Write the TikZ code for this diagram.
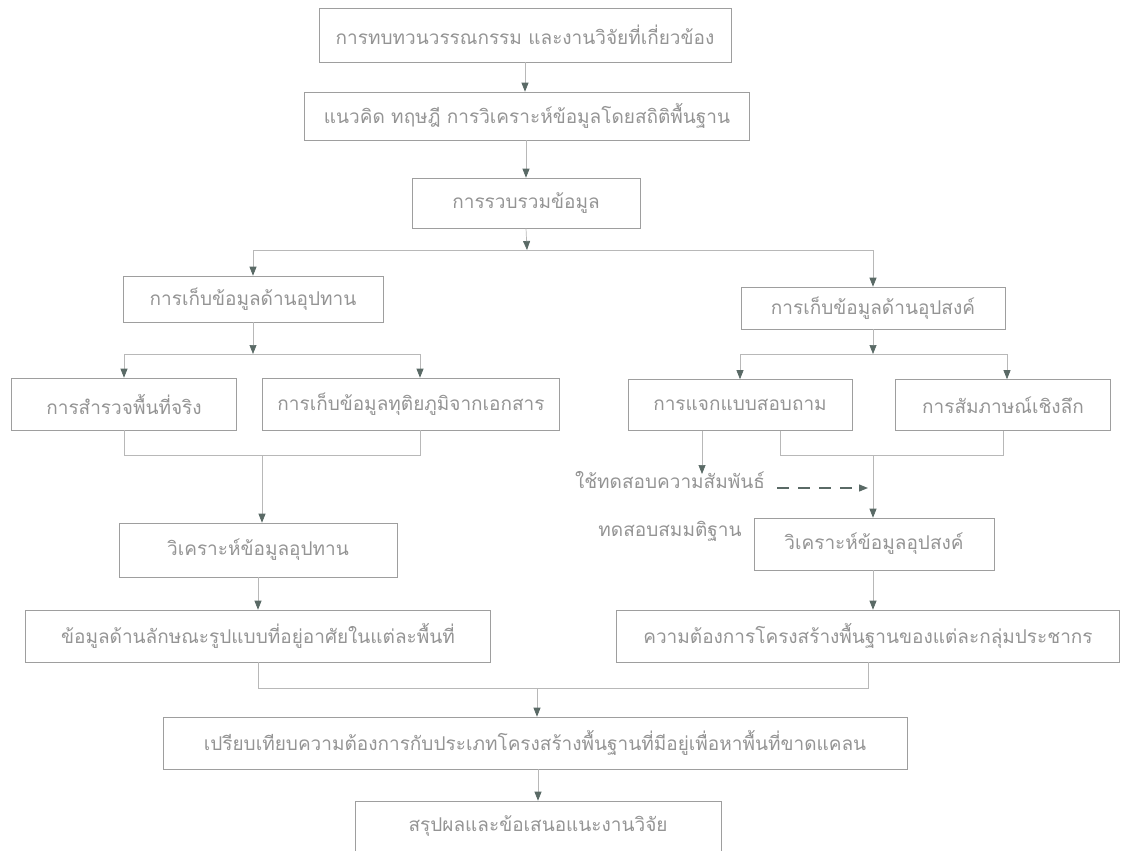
\documentclass[tikz,border=0pt]{standalone}
\usepackage{fontspec}
\newfontfamily\thaifont[Script=Thai]{Loma}
\usetikzlibrary{arrows.meta}
\definecolor{boxline}{gray}{0.62}
\definecolor{txt}{gray}{0.58}
\definecolor{tip}{HTML}{5A6A66}
\definecolor{wire}{gray}{0.72}
\tikzset{
  box/.style={draw=boxline,line width=0.6pt,text=txt,inner sep=0pt,font=\thaifont\fontsize{19}{22}\selectfont,anchor=center},
  arr/.style={draw=wire,line width=0.7pt,-{Triangle[length=9pt,width=7pt,fill=tip,color=tip]}},
  wln/.style={draw=wire,line width=0.7pt},
  dsh/.style={draw=tip,line width=1.2pt,dash pattern=on 12pt off 9pt,-{Triangle[length=9pt,width=7pt,fill=tip,color=tip]}}
}
\begin{document}
\begin{tikzpicture}[x=1pt,y=1pt]
\useasboundingbox (0,0) rectangle (1130,-851);
% boxes
\node[box,minimum width=412pt,minimum height=54pt] (b1) at (525,-35) {การทบทวนวรรณกรรม และงานวิจัยที่เกี่ยวข้อง};
\node[box,minimum width=445pt,minimum height=48pt] (b2) at (527,-116) {แนวคิด ทฤษฎี การวิเคราะห์ข้อมูลโดยสถิติพื้นฐาน};
\node[box,minimum width=228pt,minimum height=50pt] (b3) at (526,-203) {การรวบรวมข้อมูล};
\node[box,minimum width=260pt,minimum height=46pt] (b4l) at (253,-299) {การเก็บข้อมูลด้านอุปทาน};
\node[box,minimum width=264pt,minimum height=42pt] (b4r) at (873,-308) {การเก็บข้อมูลด้านอุปสงค์};
\node[box,minimum width=225pt,minimum height=52pt] (b5a) at (124,-404) {การสำรวจพื้นที่จริง};
\node[box,minimum width=297pt,minimum height=52pt] (b5b) at (411,-404) {การเก็บข้อมูลทุติยภูมิจากเอกสาร};
\node[box,minimum width=224pt,minimum height=51pt] (b5c) at (740,-405) {การแจกแบบสอบถาม};
\node[box,minimum width=215pt,minimum height=51pt] (b5d) at (1003,-405) {การสัมภาษณ์เชิงลึก};
\node[box,minimum width=278pt,minimum height=54pt] (b6l) at (258,-550) {วิเคราะห์ข้อมูลอุปทาน};
\node[box,minimum width=240pt,minimum height=52pt] (b6r) at (874,-544) {วิเคราะห์ข้อมูลอุปสงค์};
\node[box,minimum width=465pt,minimum height=52pt] (b7l) at (258,-636) {ข้อมูลด้านลักษณะรูปแบบที่อยู่อาศัยในแต่ละพื้นที่};
\node[box,minimum width=503pt,minimum height=52pt] (b7r) at (868,-636) {ความต้องการโครงสร้างพื้นฐานของแต่ละกลุ่มประชากร};
\node[box,minimum width=744pt,minimum height=52pt] (b8) at (535,-743) {เปรียบเทียบความต้องการกับประเภทโครงสร้างพื้นฐานที่มีอยู่เพื่อหาพื้นที่ขาดแคลน};
\node[box,minimum width=366pt,minimum height=50pt] (b9) at (538,-826) {สรุปผลและข้อเสนอแนะงานวิจัย};
\node[text=txt,font=\thaifont\fontsize{19}{48}\selectfont,align=center,inner sep=0pt] (lab) at (670,-506) {ใช้ทดสอบความสัมพันธ์\\ทดสอบสมมติฐาน};
% junction coordinates
\coordinate (j1) at (527,-250);
\coordinate (j1l) at (253,-250);
\coordinate (j1r) at (873,-250);
\coordinate (j2) at (253,-354);
\coordinate (j2a) at (124,-354);
\coordinate (j2b) at (420,-354);
\coordinate (j3) at (873,-354);
\coordinate (j3c) at (740,-354);
\coordinate (j3d) at (1007,-354);
\coordinate (k5a) at (124,-455);
\coordinate (k5b) at (420,-455);
\coordinate (k5m) at (262,-455);
\coordinate (k5c) at (780,-455);
\coordinate (k5d) at (1003,-455);
\coordinate (k5n) at (873,-455);
\coordinate (s5c) at (780,-430.5);
\coordinate (s5cl) at (702,-430.5);
\coordinate (labtop) at (702,-474);
\coordinate (dsA) at (777,-488);
\coordinate (dsB) at (868,-488);
\coordinate (k7l) at (258,-688);
\coordinate (k7r) at (868,-688);
\coordinate (k7m) at (537,-688);
% connectors
\draw[arr] (b1.south) -- (b1.south |- b2.north);
\draw[arr] (b2.south -| b3.north) -- (b3.north);
\draw[arr] (b3.south) -- (j1);
\draw[wln] (j1l) -- (j1r);
\draw[arr] (j1l) -- (b4l.north);
\draw[arr] (j1r) -- (b4r.north);
\draw[arr] (b4l.south) -- (j2);
\draw[wln] (j2a) -- (j2b);
\draw[arr] (j2a) -- (b5a.north);
\draw[arr] (j2b) -- (b5a.north -| j2b);
\draw[arr] (b4r.south) -- (j3);
\draw[wln] (j3c) -- (j3d);
\draw[arr] (j3c) -- (b5c.north);
\draw[arr] (j3d) -- (b5d.north -| j3d);
\draw[wln] (b5a.south) -- (k5a) -- (k5b) -- (b5b.south -| k5b);
\draw[arr] (k5m) -- (b6l.north -| k5m);
\draw[wln] (s5c) -- (k5c) -- (k5d) -- (b5d.south -| k5d);
\draw[arr] (k5n) -- (b6r.north -| k5n);
\draw[arr] (s5cl) -- (labtop);
\draw[dsh] (dsA) -- (dsB);
\draw[arr] (b6l.south) -- (b7l.north);
\draw[arr] (b6r.south -| k5n) -- (b7r.north -| k5n);
\draw[wln] (b7l.south) -- (k7l) -- (k7r) -- (b7r.south);
\draw[arr] (k7m) -- (b8.north -| k7m);
\draw[arr] (b8.south -| b9.north) -- (b9.north);
\end{tikzpicture}
\end{document}
